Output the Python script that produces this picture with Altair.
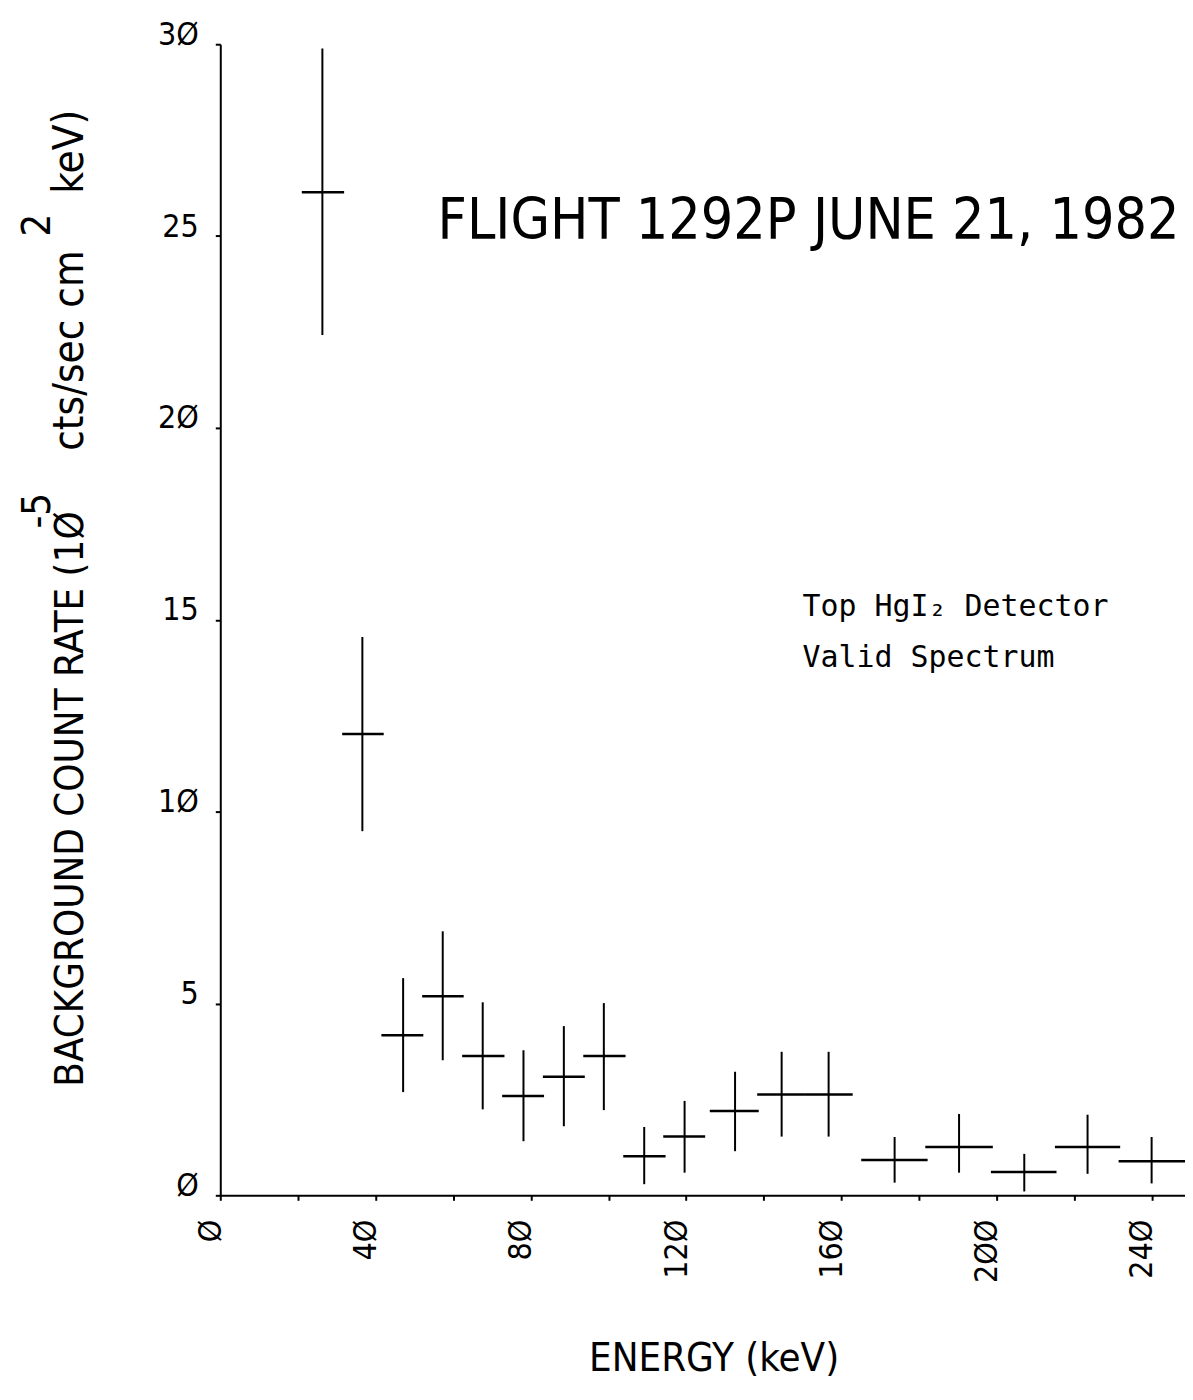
import altair as alt
import pandas as pd

# ---- data ----
energy = [26.3, 36.6, 47.1, 57.3, 67.6, 78.1, 88.5, 98.8, 109.2, 119.6,
          132.6, 144.6, 156.7, 173.7, 190.3, 207.1, 223.4, 239.9]
e_lo = [21.0, 31.4, 41.5, 52.0, 62.3, 72.6, 83.1, 93.5, 103.8, 114.1,
        126.1, 138.3, 150.6, 165.1, 181.6, 198.5, 215.0, 231.4]
e_hi = [31.9, 42.1, 52.3, 62.7, 73.2, 83.4, 93.9, 104.4, 114.7, 124.9,
        138.7, 150.6, 162.9, 182.2, 199.0, 215.4, 231.8, 248.8]
rate = [26.14, 12.02, 4.17, 5.19, 3.63, 2.59, 3.09, 3.63, 1.02, 1.53,
        2.20, 2.63, 2.63, 0.92, 1.26, 0.61, 1.26, 0.89]
rate_lo = [22.42, 9.49, 2.69, 3.52, 2.24, 1.41, 1.80, 2.22, 0.29, 0.59,
           1.15, 1.53, 1.53, 0.33, 0.59, 0.10, 0.56, 0.31]
rate_hi = [29.89, 14.55, 5.66, 6.88, 5.03, 3.78, 4.41, 5.01, 1.78, 2.46,
           3.22, 3.74, 3.74, 1.52, 2.12, 1.08, 2.10, 1.52]

x_ticks = [0, 20, 40, 60, 80, 100, 120, 140, 160, 180, 200, 220, 240]
y_ticks = [0, 5, 10, 15, 20, 25, 30]

title_text = "FLIGHT 1292P JUNE 21, 1982"
note_lines = ["Top HgI\u2082 Detector", "Valid Spectrum"]
x_title = "ENERGY (keV)"
y_title_parts = ["BACKGROUND COUNT RATE (1\u00d8", "-5", "cts/sec cm", "2", "keV)"]

NARROW = "Liberation Sans Narrow, DejaVu Sans Condensed, Arial Narrow, sans-serif"
MONO = "DejaVu Sans Mono, Liberation Mono, monospace"

df = pd.DataFrame({"energy": energy, "e_lo": e_lo, "e_hi": e_hi,
                   "rate": rate, "rate_lo": rate_lo, "rate_hi": rate_hi})

xs = alt.Scale(domain=[0, 248.5], nice=False, zero=False)
ys = alt.Scale(domain=[0, 30], nice=False, zero=False)

x_axis = alt.Axis(
    values=x_ticks,
    labelExpr="datum.value % 40 === 0 ? replace(datum.label, regexp('0', 'g'), '\u00d8') : ''",
    labelAngle=270, labelAlign="right", labelBaseline="alphabetic",
    labelPadding=19, labelFont=NARROW, labelFontSize=32, labelColor="black",
    tickSize=5, tickWidth=2, tickColor="black",
    domainColor="black", domainWidth=2, grid=False,
    title=x_title, titleFont=NARROW, titleFontSize=40, titleFontWeight="normal",
    titleColor="black", titleAlign="center", titleBaseline="alphabetic",
    titleX=495, titleY=176, titleAngle=0,
)
y_axis = alt.Axis(
    values=y_ticks,
    labelExpr="replace(datum.label, regexp('0', 'g'), '\u00d8')",
    labelAlign="right", labelBaseline="alphabetic", labelPadding=17,
    labelFont=NARROW, labelFontSize=32, labelColor="black",
    tickSize=5, tickWidth=2, tickColor="black",
    domainColor="black", domainWidth=2, grid=False, title=None,
)

base = alt.Chart(df)

hbars = base.mark_rule(color="black", strokeWidth=2.5).encode(
    x=alt.X("e_lo:Q", scale=xs, axis=x_axis),
    x2="e_hi:Q",
    y=alt.Y("rate:Q", scale=ys, axis=y_axis),
)
vbars = base.mark_rule(color="black", strokeWidth=2).encode(
    x=alt.X("energy:Q", scale=xs, axis=x_axis),
    y=alt.Y("rate_lo:Q", scale=ys, axis=y_axis),
    y2="rate_hi:Q",
)

title_df = pd.DataFrame({"x": [247.1], "y": [24.93], "t": [title_text]})
title_mark = alt.Chart(title_df).mark_text(
    font=NARROW, fontSize=57, align="right", baseline="alphabetic", color="black"
).encode(x=alt.X("x:Q", scale=xs, axis=x_axis),
         y=alt.Y("y:Q", scale=ys, axis=y_axis), text="t:N")

note_df = pd.DataFrame({"x": [150.0, 150.0], "y": [15.1, 13.77], "t": note_lines})
note_mark = alt.Chart(note_df).mark_text(
    font=MONO, fontSize=30, align="left", baseline="alphabetic", color="black"
).encode(x=alt.X("x:Q", scale=xs, axis=x_axis),
         y=alt.Y("y:Q", scale=ys, axis=y_axis), text="t:N")

one = pd.DataFrame({"a": [0]})
# y-axis title pieces (pixel positions relative to the plot origin)
ytitle_pos = [(-138, 1046), (-171, 486), (-138, 408), (-171, 193), (-138, 150)]
ytitle_size = [40, 40, 42, 40, 42]
ytitle_layers = []
for txt, (px, py), fs in zip(y_title_parts, ytitle_pos, ytitle_size):
    ytitle_layers.append(
        alt.Chart(one).mark_text(
            font=NARROW, fontSize=fs, angle=270, align="left",
            baseline="alphabetic", color="black"
        ).encode(x=alt.value(px), y=alt.value(py), text=alt.value(txt))
    )

chart = alt.layer(hbars, vbars, title_mark, note_mark, *ytitle_layers).properties(
    width=968, height=1155,
    autosize=alt.AutoSizeParams(type="none"),
    padding={"left": 213, "top": 34, "right": 0, "bottom": 188},
).configure(background="white").configure_view(stroke=None, strokeWidth=0)

chart.save("out.html", embed_options={"renderer": "svg", "actions": False})
